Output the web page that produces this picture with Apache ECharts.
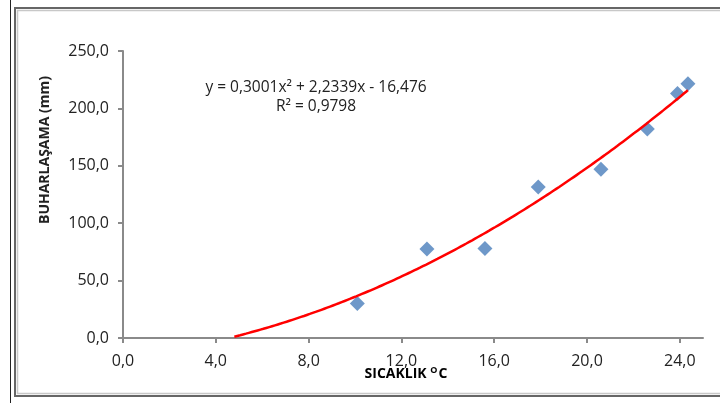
<!DOCTYPE html>
<html>
<head>
<meta charset="utf-8">
<title>Sicaklik - Buharlasama</title>
<script src="https://cdn.jsdelivr.net/npm/echarts@6.0.0/dist/echarts.min.js"></script>
<style>
    html, body { margin: 0; padding: 0; background: #fff; }
    #main { width: 720px; height: 403px; }
</style>
</head>
<body>
<div id="main"></div>
<script>
    // okunan noktalar (sicaklik, buharlasama)
    var sicaklik = [10.1, 13.1, 15.6, 17.9, 20.6, 22.6, 23.9, 24.35];
    var buharlasama = [30.0, 77.5, 78.0, 131.5, 147.0, 182.0, 213.0, 221.5];
    // grafikte yazan trend denklemi: y = a x^2 + b x + c
    var trendKatsayi = [0.3001, 2.2339, -16.476];
    var trendAralik = [4.8, 24.35];
    var xTicks = [0, 4, 8, 12, 16, 20, 24];

    function fmt(v) {
        return v.toFixed(1).replace('.', ',');
    }

    var noktalar = sicaklik.map(function (x, i) { return [x, buharlasama[i]]; });

    var trend = [];
    for (var x = trendAralik[0]; x <= trendAralik[1] + 1e-9; x += 0.25) {
        trend.push([x, trendKatsayi[0] * x * x + trendKatsayi[1] * x + trendKatsayi[2]]);
    }
    var xs = trendAralik[1];
    trend.push([xs, trendKatsayi[0] * xs * xs + trendKatsayi[1] * xs + trendKatsayi[2]]);

    var font = '"Open Sans", "Liberation Sans", sans-serif';
    var myChart = echarts.init(document.getElementById('main'));
    var option = {
        backgroundColor: '#fff',
        animation: false,
        textStyle: { fontFamily: font },
        grid: { left: 123, right: 17, top: 51, bottom: 65 },
        xAxis: {
            type: 'value',
            min: 0,
            max: 25,
            interval: 4,
            splitLine: { show: false },
            axisLine: { lineStyle: { color: '#8a8a8a', width: 2 } },
            axisTick: { show: true, length: 5, customValues: xTicks, lineStyle: { color: '#8a8a8a', width: 2 } },
            axisLabel: {
                customValues: xTicks,
                margin: 15,
                fontSize: 16,
                color: '#222',
                fontFamily: font,
                formatter: fmt
            }
        },
        yAxis: {
            type: 'value',
            min: 0,
            max: 250,
            interval: 50,
            splitLine: { show: false },
            axisLine: { show: true, lineStyle: { color: '#8a8a8a', width: 2 } },
            axisTick: { show: true, length: 5, lineStyle: { color: '#8a8a8a', width: 2 } },
            axisLabel: {
                margin: 14,
                fontSize: 16,
                color: '#222',
                fontFamily: font,
                formatter: fmt
            }
        },
        series: [
            {
                name: 'trend',
                type: 'line',
                data: trend,
                showSymbol: false,
                smooth: true,
                lineStyle: { color: '#ff0000', width: 2.5 },
                z: 3
            },
            {
                name: 'buharlasama',
                type: 'scatter',
                data: noktalar,
                symbol: 'diamond',
                symbolSize: 15,
                itemStyle: { color: '#4a7ebb' },
                z: 2
            }
        ],
        graphic: [
            { type: 'line', shape: { x1: 10.5, y1: 0, x2: 10.5, y2: 403 }, style: { stroke: '#222', lineWidth: 1 } },
            { type: 'rect', shape: { x: 15, y: 8, width: 720, height: 388 }, style: { fill: null, stroke: '#666', lineWidth: 2 } },
            { type: 'rect', shape: { x: 17.5, y: 10.5, width: 720, height: 383 }, style: { fill: null, stroke: '#c8c8c8', lineWidth: 1.5 } },
            {
                type: 'text', x: 316, y: 88,
                style: {
                    text: 'y = 0,3001x² + 2,2339x - 16,476',
                    font: '15.5px ' + font, fill: '#222',
                    align: 'center', verticalAlign: 'middle'
                }
            },
            {
                type: 'text', x: 316, y: 107,
                style: {
                    text: 'R² = 0,9798',
                    font: '15.5px ' + font, fill: '#222',
                    align: 'center', verticalAlign: 'middle'
                }
            },
            {
                type: 'text', x: 45, y: 150, rotation: Math.PI / 2,
                style: {
                    text: 'BUHARLAŞAMA (mm)',
                    font: 'bold 14px ' + font, fill: '#222',
                    align: 'center', verticalAlign: 'middle'
                }
            },
            {
                type: 'text', x: 406, y: 374,
                style: {
                    text: '{b|SICAKLIK }{s|O}{b|C}',
                    align: 'center', verticalAlign: 'middle',
                    rich: {
                        b: { font: 'bold 14px ' + font, color: '#222' },
                        s: { font: 'bold 9px ' + font, color: '#222', verticalAlign: 'top', padding: [0, 1, 8, 0] }
                    }
                }
            }
        ]
    };
    option && myChart.setOption(option);
</script>
</body>
</html>
